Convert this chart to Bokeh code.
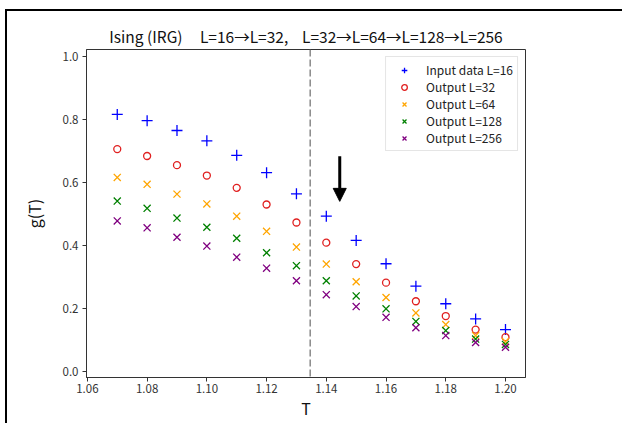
from bokeh.plotting import figure
from bokeh.models import (Span, Arrow, NormalHead, Legend, LegendItem, FixedTicker,
                          NumeralTickFormatter, Range1d, ColumnDataSource)
from bokeh.layouts import column
from bokeh.embed import file_html
from bokeh.resources import INLINE

# ---- data ----
T = [1.07, 1.08, 1.09, 1.10, 1.11, 1.12, 1.13, 1.14, 1.15, 1.16, 1.17, 1.18, 1.19, 1.20]
g_input16 = [0.815, 0.795, 0.764, 0.731, 0.685, 0.630, 0.563, 0.492, 0.415, 0.341, 0.270, 0.214, 0.166, 0.132]
g_out32 = [0.705, 0.683, 0.654, 0.621, 0.582, 0.529, 0.472, 0.408, 0.340, 0.281, 0.222, 0.175, 0.132, 0.108]
g_out64 = [0.615, 0.593, 0.562, 0.531, 0.492, 0.444, 0.394, 0.340, 0.284, 0.234, 0.185, 0.148, 0.113, 0.094]
g_out128 = [0.540, 0.517, 0.486, 0.457, 0.422, 0.376, 0.335, 0.287, 0.239, 0.198, 0.158, 0.129, 0.102, 0.085]
g_out256 = [0.477, 0.455, 0.425, 0.397, 0.362, 0.327, 0.287, 0.243, 0.205, 0.171, 0.138, 0.113, 0.091, 0.076]

legend_labels = ["Input data L=16", "Output L=32", "Output L=64", "Output L=128", "Output L=256"]
x_ticks = [1.06, 1.08, 1.10, 1.12, 1.14, 1.16, 1.18, 1.20]
y_ticks = [0.0, 0.2, 0.4, 0.6, 0.8, 1.0]
Tc = 1.1346
arrow_T = 1.1445
arrow_from = 0.682
arrow_to = 0.539
NB = "\u00a0"
title_text = ("Ising (IRG)" + NB * 4 + " L=16\u2192L=32," + NB * 3 +
              " L=32\u2192L=64\u2192L=128\u2192L=256")

FONT = "Noto Sans CJK JP"

src = ColumnDataSource(dict(T=T, a=g_input16, b=g_out32, c=g_out64, d=g_out128, e=g_out256))

p = figure(width=615, height=412, output_backend="svg", toolbar_location=None,
           x_range=Range1d(1.0597, 1.2067), y_range=Range1d(-0.02, 1.021),
           min_border_left=79, min_border_right=97, min_border_top=38, min_border_bottom=46)
p.xgrid.visible = False
p.ygrid.visible = False
p.outline_line_color = "#333333"
p.outline_line_width = 1
p.background_fill_color = "white"
p.border_fill_color = "white"

p.title.text = title_text
p.title.align = "center"
p.title.text_font = FONT
p.title.text_font_size = "15.5px"
p.title.text_font_style = "normal"
p.title.text_color = "#111111"
p.title.standoff = 5

for ax in (p.xaxis[0], p.yaxis[0]):
    ax.major_tick_out = 4
    ax.major_tick_in = 0
    ax.minor_tick_out = 0
    ax.minor_tick_in = 0
    ax.axis_line_color = "#333333"
    ax.major_tick_line_color = "#333333"
    ax.major_label_text_font = FONT
    ax.major_label_text_font_size = "11.5px"
    ax.major_label_text_color = "#333333"
    ax.axis_label_text_font = FONT
    ax.axis_label_text_font_size = "16px"
    ax.axis_label_text_font_style = "normal"
    ax.axis_label_text_color = "#111111"

p.xaxis.ticker = FixedTicker(ticks=x_ticks)
p.yaxis.ticker = FixedTicker(ticks=y_ticks)
p.xaxis.formatter = NumeralTickFormatter(format="0.00")
p.yaxis.formatter = NumeralTickFormatter(format="0.0")
p.xaxis.axis_label = "T"
p.yaxis.axis_label = "g(T)"
p.xaxis.major_label_standoff = 2
p.yaxis.major_label_standoff = 4
p.xaxis.axis_label_standoff = 0
p.yaxis.axis_label_standoff = 14

# Tc line
p.add_layout(Span(location=Tc, dimension="height", line_color="gray",
                  line_width=1.4, line_dash="7 3"))

r1 = p.scatter("T", "a", source=src, marker="cross", size=11, line_color="blue", line_width=1.3)
r2 = p.scatter("T", "b", source=src, marker="circle", size=7, line_color="#e02020",
               fill_color=None, line_width=1.3)
r3 = p.scatter("T", "c", source=src, marker="x", size=10, line_color="orange", line_width=1.3)
r4 = p.scatter("T", "d", source=src, marker="x", size=10, line_color="green", line_width=1.3)
r5 = p.scatter("T", "e", source=src, marker="x", size=10, line_color="purple", line_width=1.3)

p.add_layout(Arrow(end=NormalHead(size=13, fill_color="black", line_color="black"),
                   x_start=arrow_T, y_start=arrow_from, x_end=arrow_T, y_end=arrow_to,
                   line_width=3, line_color="black"))

legend = Legend(items=[LegendItem(label=l, renderers=[r]) for l, r in
                       zip(legend_labels, [r1, r2, r3, r4, r5])],
                location="top_right")
legend.margin = 7
legend.padding = 4
legend.spacing = 0
legend.glyph_width = 28
legend.glyph_height = 14
legend.label_height = 14
legend.label_standoff = 8
legend.label_text_font = FONT
legend.label_text_font_size = "12px"
legend.label_text_color = "#222222"
legend.border_line_color = "#cccccc"
legend.border_line_width = 1
legend.background_fill_alpha = 0.85
p.add_layout(legend)

layout = column(p, margin=(9, 0, 0, 5),
                styles={"border-left": "2px solid black", "border-top": "2px solid black"})

open("out.html", "w").write(file_html(layout, INLINE))
